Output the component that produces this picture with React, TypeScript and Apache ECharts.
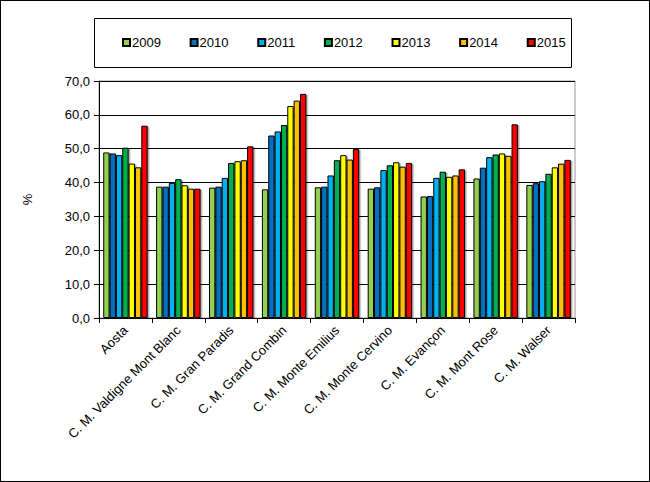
import React, { useEffect, useRef } from "react";
import * as echarts from "echarts";

const categories = [
  "Aosta",
  "C. M. Valdigne Mont Blanc",
  "C. M. Gran Paradis",
  "C. M. Grand Combin",
  "C. M. Monte Emilius",
  "C. M. Monte Cervino",
  "C. M. Evançon",
  "C. M. Mont Rose",
  "C. M. Walser",
];

const years = ["2009", "2010", "2011", "2012", "2013", "2014", "2015"];
const colors = ["#92D050", "#0070C0", "#00B0F0", "#00B050", "#FFFF00", "#FFC000", "#FF0000"];

const v2009 = [48.9, 38.8, 38.5, 38.0, 38.6, 38.2, 35.9, 41.2, 39.3];
const v2010 = [48.6, 38.8, 38.8, 53.9, 38.8, 38.6, 36.0, 44.4, 39.8];
const v2011 = [48.1, 39.9, 41.4, 55.1, 42.1, 43.7, 41.4, 47.5, 40.4];
const v2012 = [50.3, 41.0, 45.8, 57.0, 46.6, 45.1, 43.2, 48.3, 42.6];
const v2013 = [45.6, 39.2, 46.3, 62.6, 48.1, 46.0, 41.7, 48.6, 44.5];
const v2014 = [44.5, 38.2, 46.6, 64.2, 46.8, 44.7, 42.1, 47.9, 45.6];
const v2015 = [56.8, 38.2, 50.7, 66.2, 49.9, 45.8, 43.9, 57.2, 46.7];

const seriesValues = [v2009, v2010, v2011, v2012, v2013, v2014, v2015];
const yTicks = { min: 0, max: 70, interval: 10 };

const FONT = "'Liberation Sans', Arial, sans-serif";

export default function App() {
  const ref = useRef<HTMLDivElement>(null);

  useEffect(() => {
    document.body.style.margin = "0";
    if (!ref.current) return;
    const chart = echarts.init(ref.current, undefined, { renderer: "svg" });
    chart.setOption({
      animation: false,
      backgroundColor: "#fff",
      textStyle: { fontFamily: FONT, color: "#000" },
      graphic: [
        {
          type: "rect",
          shape: { x: 93.5, y: 17.5, width: 477, height: 49 },
          style: { fill: "none", stroke: "#000", lineWidth: 1 },
          z: 10,
        },
      ],
      legend: {
        data: years,
        left: 116,
        top: 30,
        icon: "rect",
        itemWidth: 7,
        itemHeight: 7,
        itemGap: 28.7,
        textStyle: { fontFamily: FONT, fontSize: 13, color: "#000", padding: [0, 0, 0, -3] },
      },
      grid: {
        left: 98,
        right: 74,
        top: 80,
        bottom: 163,
        show: true,
        borderColor: "#999",
        borderWidth: 1,
      },
      xAxis: {
        type: "category",
        data: categories,
        axisLine: { lineStyle: { color: "#000", width: 1 } },
        axisTick: { show: true, alignWithLabel: false, length: 5, lineStyle: { color: "#000" } },
        axisLabel: {
          rotate: 45,
          interval: 0,
          fontFamily: FONT,
          fontSize: 13,
          color: "#000",
          margin: 10,
        },
      },
      yAxis: {
        type: "value",
        min: yTicks.min,
        max: yTicks.max,
        interval: yTicks.interval,
        name: "%",
        nameLocation: "middle",
        nameRotate: 90,
        nameGap: 65,
        nameTextStyle: { fontFamily: FONT, fontSize: 13, color: "#000" },
        axisLine: { show: true, lineStyle: { color: "#000", width: 1 } },
        axisTick: { show: true, length: 5, lineStyle: { color: "#000" } },
        axisLabel: {
          fontFamily: FONT,
          fontSize: 13,
          color: "#000",
          margin: 9,
          formatter: (v: number) => v.toFixed(1).replace(".", ","),
        },
        splitLine: { show: true, lineStyle: { color: "#000", width: 1 } },
      },
      series: years.map((y, i) => ({
        name: y,
        type: "bar",
        data: seriesValues[i],
        barGap: "0%",
        barCategoryGap: "16%",
        itemStyle: {
          color: colors[i],
          borderColor: "#000",
          borderWidth: 1,
          shadowColor: "rgba(0,0,0,0.35)",
          shadowOffsetX: 1.5,
          shadowOffsetY: 1,
          shadowBlur: 1,
        },
      })),
    });
    return () => chart.dispose();
  }, []);

  return (
    <div
      ref={ref}
      style={{
        width: 650,
        height: 482,
        boxSizing: "border-box",
        border: "1px solid #000",
      }}
    />
  );
}
